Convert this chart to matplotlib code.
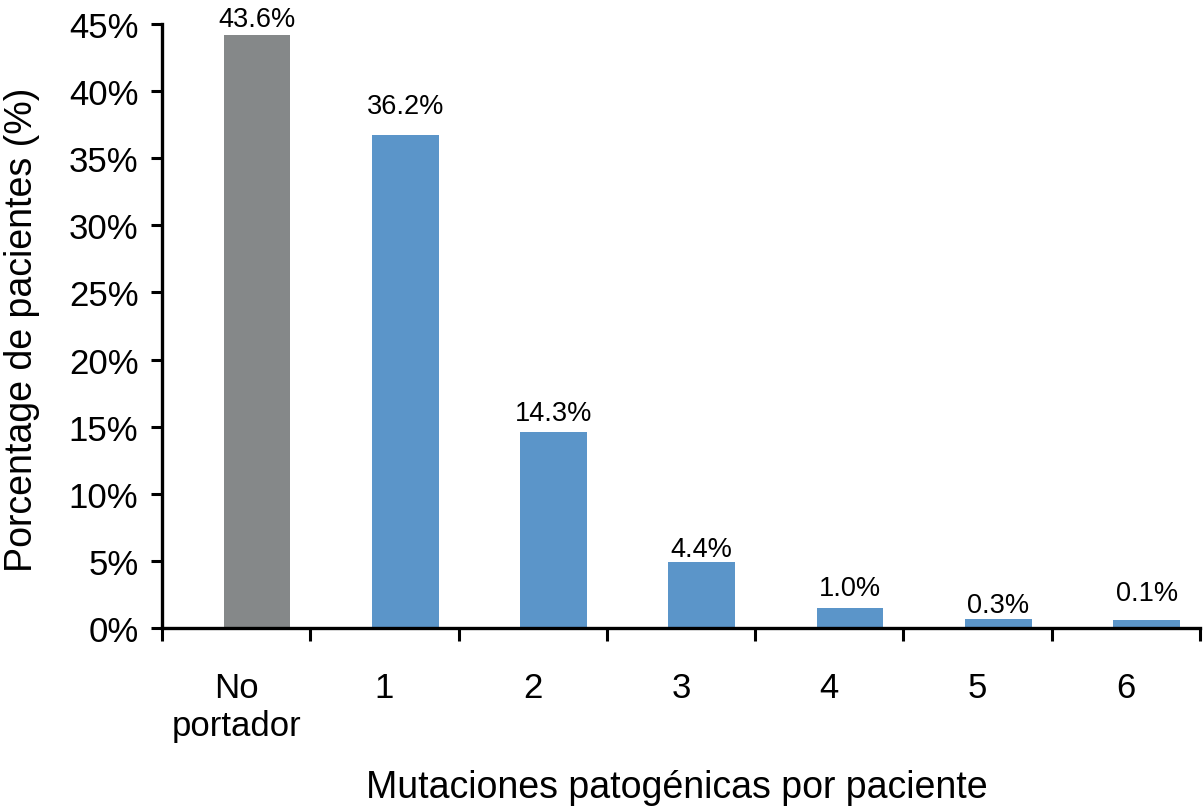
import matplotlib.pyplot as plt
from matplotlib.ticker import FixedLocator

plt.rcParams['font.family'] = ['Liberation Sans', 'DejaVu Sans']

# data
categories = ['No\nportador', '1', '2', '3', '4', '5', '6']
bar_heights = [44.2, 36.7, 14.6, 4.9, 1.5, 0.7, 0.6]   # bar tops
value_labels = ['43.6%', '36.2%', '14.3%', '4.4%', '1.0%', '0.3%', '0.1%']
y_ticks = [0, 5, 10, 15, 20, 25, 30, 35, 40, 45]

# style
bar_colors = ['#858889'] + ['#5b95c9'] * 6
label_pad = [6.5, 16, 8.6, 4.3, 9.4, 5, 14.4]  # points above bar top

fig = plt.figure(figsize=(12.03, 8.12), dpi=100)
ax = fig.add_axes([0.1347, 0.2254, 0.8628, 0.7438])

x = list(range(len(categories)))
bar_x = [i + 0.14 for i in x]
ax.bar(bar_x, bar_heights, width=0.45, color=bar_colors, zorder=2)

for bx, h, lab, pad in zip(bar_x, bar_heights, value_labels, label_pad):
    ax.annotate(lab, (bx, h), xytext=(0, pad), textcoords='offset points',
                ha='center', va='baseline', fontsize=19.5)

ax.set_xlim(-0.5, 6.5)
ax.set_ylim(0, 45)

ax.set_yticks(y_ticks)
ax.set_yticklabels([f'{t}%' for t in y_ticks], fontsize=25)
ax.tick_params(axis='y', direction='out', length=8, width=2.2, pad=9)

ax.set_xticks(x)
ax.set_xticklabels(categories, fontsize=25, linespacing=1.2)
ax.tick_params(axis='x', which='major', length=0, pad=31)
ax.xaxis.set_minor_locator(FixedLocator([i - 0.5 for i in range(len(categories) + 1)]))
ax.tick_params(axis='x', which='minor', direction='out', length=9, width=2.2)

for side in ['top', 'right']:
    ax.spines[side].set_visible(False)
for side in ['left', 'bottom']:
    ax.spines[side].set_linewidth(2.4)

fig.text(0.018, 0.594, 'Porcentage de pacientes (%)', rotation=90,
         ha='center', va='center', fontsize=27)
fig.text(0.563, 0.017, 'Mutaciones patogénicas por paciente',
         ha='center', va='baseline', fontsize=27)

fig.savefig('out.png', dpi=100)
